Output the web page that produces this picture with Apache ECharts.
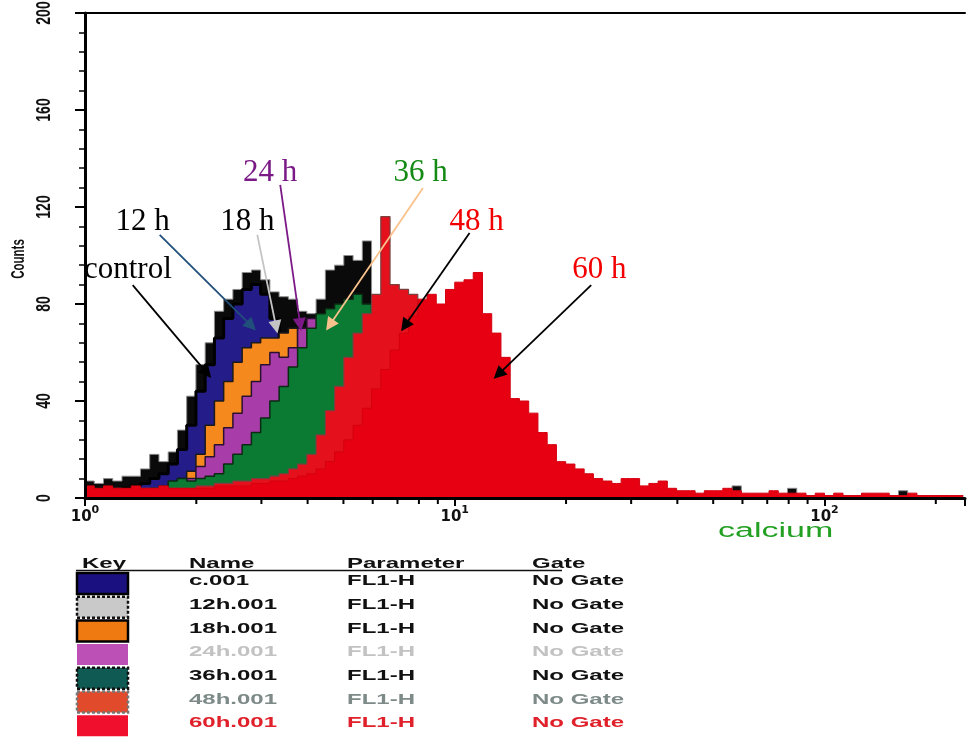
<!DOCTYPE html>
<html>
<head>
<meta charset="utf-8">
<script src="https://cdn.jsdelivr.net/npm/echarts@6/dist/echarts.min.js"></script>
<style>
  html, body { margin: 0; padding: 0; background: #fff; }
  #chart { width: 968px; height: 742px; }
</style>
</head>
<body>
<div id="chart"></div>
<script>
// FL1-H (calcium) overlay histograms: 40 channels per decade, log10 scale, counts per channel
const BINS_PER_DECADE = 40;

const counts12h = [7,6,8,7,9,9,12,18,15,19,28, 42,55,64,77,82,86,93,94,90,85, 83,82,77,76,82,94,96,100,98,106,
  80,48,22,12,8,6,5,4,4,3, 3,3,2,3,2,2,3,2,2,2, 2,2,2,2,2,2,2,2,1,1, 1,1,1,1,1,1,1,1,1,5,
  1,1,1,1,1,4,1,1,1,1, 1,1,1,1,1,1,1,3,1,1, 1,1,1,1];
const countsControl = [3,3,4,3,4,5,6,8,10,14,20, 30,44,55,66,74,80,86,88,84,74, 62,50,40,30,22,15,10,7,5,4, 3,3,2,2,2];
const counts18h = [2,2,2,3,2,3,3,4,5,6,8, 11,18,30,40,48,56,62,64,66,66, 68,70,52,36,24,15,10,6,4,3, 2,2,2];
const counts24h = [1,1,2,1,2,2,2,3,3,4,5, 8,13,17,22,29,35,42,48,55,60, 58,62,70,74,76,60,40,25,14,8, 5,3,2];
const counts36h = [2,2,2,2,2,3,3,3,4,7,8, 7,8,9,10,14,18,22,27,33,40, 46,54,62,70,76,78,80,82,84,80,
  60,40,25,15,10,6,4,3,2,2];
const counts48h = [4,3,4,4,3,4,4,4,3,4,4, 4,5,5,6,6,7,7,8,8,9, 10,12,14,18,26,36,46,58,68,76,
  84,116,88,86,84, 76,70,64,56,48,40,32,26,20,16, 12,9,7,6,5,4,4,3,3,3, 3,3,2,3,2,2,2,2,2,2,1,2,1,1,1];
const counts60h = [5,4,5,4,4,5,4,4,5,4,4, 4,4,4,5,5,5,5,6,6,7, 7,8,9,10,12,15,19,24,30,37,
  45,53,61,68,75, 82,84,80,86,89,90,93, 76,68,58,41,40,35,27,22,
  15,14,12,10,8,7,6,8,8,5, 6,7,4,3,3,2,3,3,4,3, 2,2,2,3,2,2,2,1,2,1, 2,1,1,2,2,2,1,1,2,1,1,1,1,1];

// axis ticks
const xDecades = [0, 1, 2];
const xMinorTickValues = [2,3,4,5,6,7,8,9, 20,30,40,50,60,70,80,90, 200];
const yTickValues = [0, 40, 80, 120, 160, 200];

// key table
const keyHeader = ['Key', 'Name', 'Parameter', 'Gate'];
const keyNames = ['c.001', '12h.001', '18h.001', '24h.001', '36h.001', '48h.001', '60h.001'];
const keyParams = ['FL1-H', 'FL1-H', 'FL1-H', 'FL1-H', 'FL1-H', 'FL1-H', 'FL1-H'];
const keyGates = ['No Gate', 'No Gate', 'No Gate', 'No Gate', 'No Gate', 'No Gate', 'No Gate'];

// time-point callouts: label, text anchor (log10 x, count), arrow from -> to
const callouts = [
  { text: 'control', at: [0.116, 94.0],  from: [0.129, 87.8],  to: [0.330, 51.5] },
  { text: '12 h',    at: [0.156, 113.8], from: [0.202, 108.5], to: [0.450, 71.0] },
  { text: '18 h',    at: [0.439, 113.8], from: [0.466, 108.5], to: [0.517, 70.5] },
  { text: '24 h',    at: [0.501, 134.0], from: [0.528, 129.1], to: [0.582, 71.5] },
  { text: '36 h',    at: [0.908, 134.0], from: [0.914, 127.8], to: [0.662, 71.3] },
  { text: '48 h',    at: [1.059, 113.8], from: [1.040, 109.3], to: [0.865, 71.0] },
  { text: '60 h',    at: [1.391, 94.0],  from: [1.369, 87.8],  to: [1.118, 51.0] }
];

// ---- styles ----
const calloutColors = ['#000000', '#000000', '#000000', '#7b1a87', '#138a13', '#f20000', '#f20000'];
const arrowColors   = ['#000000', '#1f4f7a', '#c4c4c4', '#7b1a87', '#f9c28c', '#000000', '#000000'];

const histStyles = [
  { name: '12h.001', data: counts12h,     fill: '#0a0a0a', line: '#8c8c8c', width: 1 },
  { name: 'c.001',   data: countsControl, fill: '#241c88', line: '#000000', width: 3 },
  { name: '18h.001', data: counts18h,     fill: '#f5891e', line: '#1a1a1a', width: 1.5 },
  { name: '24h.001', data: counts24h,     fill: '#a83ca8', line: '#2a1030', width: 1.5 },
  { name: '36h.001', data: counts36h,     fill: '#0b7b33', line: '#0a2a12', width: 1.5 },
  { name: '48h.001', data: counts48h,     fill: '#e4101b', line: '#7a4040', width: 1.2 },
  { name: '60h.001', data: counts60h,     fill: '#e60012', line: '#d4000f', width: 1 }
];

const keySwatch = [
  { fill: '#1b1080', stroke: '#000', dash: null },
  { fill: '#c9c9c9', stroke: '#111', dash: [3, 2] },
  { fill: '#f07a12', stroke: '#000', dash: null },
  { fill: '#bc50b6', stroke: null,   dash: null },
  { fill: '#0f5a52', stroke: '#111', dash: [3, 2] },
  { fill: '#e24a2c', stroke: '#777', dash: [3, 2] },
  { fill: '#f0102e', stroke: null,   dash: null }
];
const keyTextColors = ['#111', '#111', '#111', '#c2c2c2', '#111', '#7d8a88', '#e0202a'];

const X_MAX = 2.38;
const BIN_W = 1 / BINS_PER_DECADE;

// points at channel centres, plus the two outer edges, drawn as mid-stepped areas
function toPoints(counts) {
  const pts = [[0, counts[0]]];
  counts.forEach((c, i) => pts.push([(i + 0.5) * BIN_W, c]));
  pts.push([counts.length * BIN_W, counts[counts.length - 1]]);
  return pts;
}

const chart = echarts.init(document.getElementById('chart'), null, { renderer: 'canvas' });

// each overlay gets its own z so later files sit fully in front of earlier ones
const histSeries = histStyles.map((h, i) => ({
  type: 'line',
  name: h.name,
  step: 'middle',
  data: toPoints(h.data),
  showSymbol: false,
  symbol: 'none',
  silent: true,
  lineStyle: { color: h.line, width: h.width },
  areaStyle: { color: h.fill, opacity: 1, origin: 'start' },
  z: 2 + i
}));

const tableFont = 'bold 15px "Liberation Sans", Arial, sans-serif';
const colX = [82, 189, 347, 532];
const headerY = 564;
const rowY0 = 581;
const rowStep = 23.7;
const stretch = 1.6;

const graphics = [];
keyHeader.forEach((t, i) => {
  graphics.push({ type: 'text', x: colX[i], y: headerY, scaleX: stretch,
    style: { text: t, font: tableFont, fill: '#111', align: 'left', verticalAlign: 'middle' } });
});
graphics.push({ type: 'line', shape: { x1: 76, y1: 570.5, x2: 562, y2: 570.5 }, style: { stroke: '#111', lineWidth: 1.5 } });
keyNames.forEach((n, r) => {
  const y = rowY0 + r * rowStep;
  const sw = keySwatch[r];
  graphics.push({ type: 'rect', shape: { x: 77, y: y - 8, width: 51, height: 21 },
    style: { fill: sw.fill, stroke: sw.stroke || null, lineWidth: sw.stroke ? 2.5 : 0, lineDash: sw.dash } });
  [n, keyParams[r], keyGates[r]].forEach((t, c) => {
    graphics.push({ type: 'text', x: colX[c + 1], y: y, scaleX: stretch,
      style: { text: t, font: tableFont, fill: keyTextColors[r], align: 'left', verticalAlign: 'middle' } });
  });
});
graphics.push({ type: 'text', x: 718, y: 531, scaleX: 1.7,
  style: { text: 'calcium', font: '20px "Liberation Sans", Arial, sans-serif', fill: '#22a022', align: 'left', verticalAlign: 'middle' } });
graphics.push({ type: 'text', x: 18.5, y: 259, rotation: Math.PI / 2, scaleY: 1.6,
  style: { text: 'Counts', font: 'bold 11.5px "Liberation Sans", Arial, sans-serif', fill: '#111', align: 'center', verticalAlign: 'middle' } });

const option = {
  backgroundColor: '#ffffff',
  animation: false,
  grid: { left: 85, right: 0, top: 13, bottom: 244, containLabel: false },
  xAxis: [{
    type: 'value', min: 0, max: X_MAX, interval: 1, z: 40,
    axisLine: { show: true, onZero: false, lineStyle: { color: '#000', width: 3 } },
    axisTick: { show: true, length: 8, lineStyle: { color: '#000', width: 2 } },
    splitLine: { show: false },
    axisLabel: {
      margin: 7,
      formatter: v => xDecades.some(d => Math.abs(v - d) < 1e-6) ? '{b|10}{s|' + Math.round(v) + '}' : '',
      rich: {
        b: { fontFamily: 'DejaVu Sans', fontWeight: 'bold', fontSize: 15, color: '#111', lineHeight: 20, verticalAlign: 'bottom' },
        s: { fontFamily: 'DejaVu Sans', fontWeight: 'bold', fontSize: 11, color: '#111', lineHeight: 20, verticalAlign: 'top' }
      }
    }
  }, {
    type: 'value', position: 'top', min: 0, max: X_MAX, z: 40,
    axisLine: { show: true, onZero: false, lineStyle: { color: '#000', width: 2 } },
    axisTick: { show: false }, axisLabel: { show: false }, splitLine: { show: false }
  }],
  yAxis: {
    type: 'value', min: 0, max: 200, interval: 40, z: 40,
    axisLine: { show: true, lineStyle: { color: '#000', width: 3 } },
    axisTick: { show: true, length: 10, lineStyle: { color: '#000', width: 2 } },
    minorTick: { show: true, splitNumber: 5, length: 6, lineStyle: { color: '#000', width: 1.5 } },
    axisLabel: { show: false },
    splitLine: { show: false }
  },
  graphic: graphics,
  series: [
    ...histSeries,
    {
      // logarithmic minor ticks under the x axis
      type: 'custom',
      silent: true,
      data: xMinorTickValues.map(v => [Math.log10(v), 0]),
      renderItem: (params, api) => {
        const p = api.coord([api.value(0), 0]);
        return { type: 'line', shape: { x1: p[0], y1: p[1] + 1, x2: p[0], y2: p[1] + 6 },
          style: { stroke: '#000', lineWidth: 2 } };
      },
      z: 41
    },
    {
      // rotated count labels on the y axis
      type: 'custom',
      silent: true,
      data: yTickValues.map(v => [0, v]),
      renderItem: (params, api) => {
        const v = api.value(1);
        const p = api.coord([0, v]);
        return { type: 'text', x: p[0] - 41, y: p[1], rotation: Math.PI / 2, scaleY: 1.45,
          style: { text: String(v), font: 'bold 14px "Liberation Sans", Arial, sans-serif', fill: '#111',
            align: 'center', verticalAlign: 'middle' } };
      },
      z: 41
    },
    {
      type: 'lines',
      coordinateSystem: 'cartesian2d',
      silent: true,
      symbol: ['none', 'triangle'],
      symbolSize: 13,
      lineStyle: { width: 1.8, opacity: 1, curveness: 0 },
      data: callouts.map((c, i) => ({ coords: [c.from, c.to], lineStyle: { color: arrowColors[i] } })),
      z: 50
    },
    {
      // callout captions
      type: 'custom',
      silent: true,
      data: callouts.map(c => c.at),
      renderItem: (params, api) => {
        const i = params.dataIndex;
        const p = api.coord([api.value(0), api.value(1)]);
        return { type: 'text', x: p[0], y: p[1],
          style: { text: callouts[i].text, fill: calloutColors[i],
            font: '31px "Liberation Serif", "Times New Roman", serif', align: 'center', verticalAlign: 'middle' } };
      },
      z: 51
    }
  ]
};

chart.setOption(option);
</script>
</body>
</html>
